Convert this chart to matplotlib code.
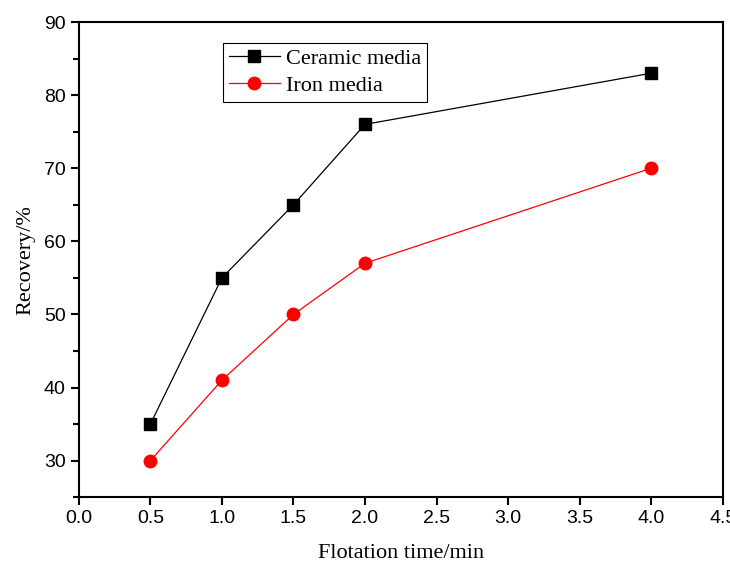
import matplotlib
matplotlib.use('Agg')
import matplotlib.pyplot as plt
from matplotlib.ticker import MultipleLocator

time_min = [0.5, 1.0, 1.5, 2.0, 4.0]
ceramic = [35, 55, 65, 76, 83]
iron = [30, 41, 50, 57, 70]

fig = plt.figure(figsize=(7.3, 5.65), dpi=100)
ax = fig.add_axes([0.108, 0.120, 0.882, 0.841])

ax.plot(time_min, ceramic, color='black', lw=0.9, marker='s', ms=8, label='Ceramic media')
ax.plot(time_min, iron, color='red', lw=0.9, marker='o', ms=9, label='Iron media')

ax.set_xlim(0, 4.5)
ax.set_ylim(25, 90)
ax.xaxis.set_major_locator(MultipleLocator(0.5))
ax.yaxis.set_major_locator(MultipleLocator(10))
ax.yaxis.set_minor_locator(MultipleLocator(5))
ax.tick_params(which='both', direction='out', top=False, right=False, width=1.5)
ax.tick_params(which='major', length=6, labelsize=14)
ax.tick_params(which='minor', length=4)
for lab in ax.get_xticklabels() + ax.get_yticklabels():
    lab.set_family(['Liberation Sans Narrow', 'Liberation Sans'])
for s in ax.spines.values():
    s.set_linewidth(1.5)

ax.set_xlabel('Flotation time/min', family='Liberation Serif', fontsize=16, labelpad=12)
ax.set_ylabel('Recovery/%', family='Liberation Serif', fontsize=16, labelpad=6)

leg = ax.legend(loc='upper left', bbox_to_anchor=(0.224, 0.956), prop={'family': 'Liberation Serif', 'size': 16},
                fancybox=False, edgecolor='black', framealpha=1, handlelength=2.3, borderpad=0.25,
                labelspacing=0.3, handletextpad=0.3, borderaxespad=0)
leg.get_frame().set_linewidth(0.8)

fig.savefig('out.png', dpi=100)
